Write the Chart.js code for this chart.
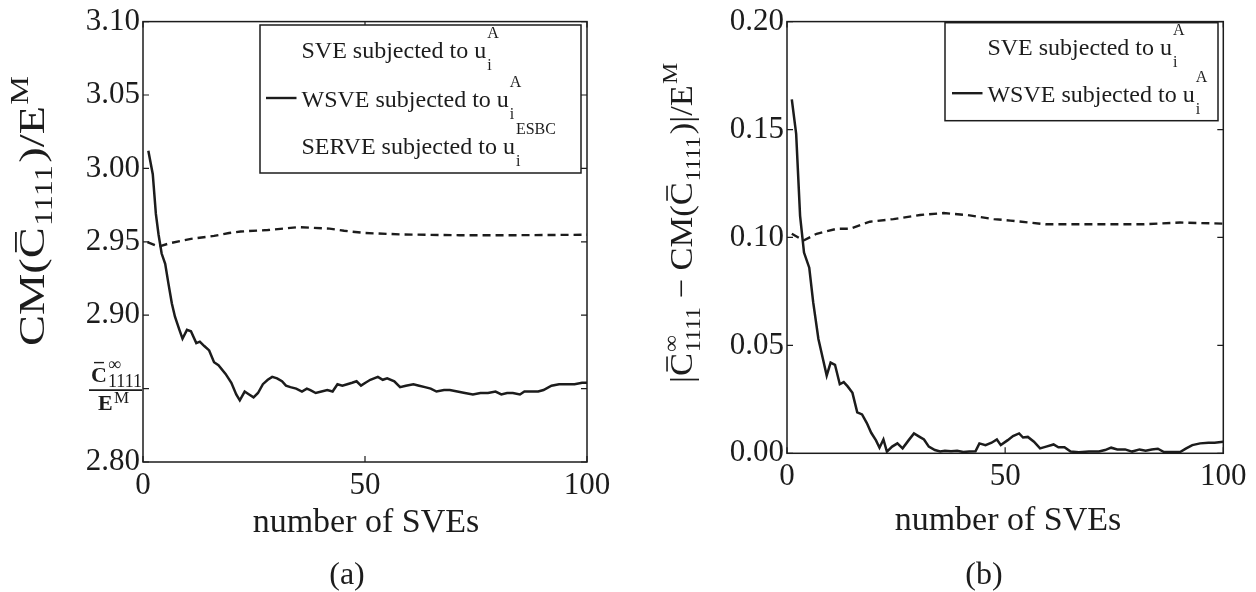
<!DOCTYPE html>
<html lang="en">
<head>
<meta charset="UTF-8">
<title>SVE convergence</title>
<script src="https://cdn.jsdelivr.net/npm/chart.js"></script>
<style>
  html, body { margin: 0; padding: 0; background: #fff; }
  #wrap { position: relative; width: 1256px; height: 592px; }
  canvas { position: absolute; top: 0; }
</style>
</head>
<body>
<div id="wrap">
  <canvas id="chartA" width="620" height="592" style="left:0"></canvas>
  <canvas id="chartB" width="636" height="592" style="left:620px"></canvas>
</div>
<script>
// (a) CM(C1111)/E^M
const aSveN = [1, 3.5, 6, 10.8, 16, 19.4, 22, 28.1, 35, 42, 45.3, 50, 58.3, 71.2, 84.2, 100];
const aSveV = [2.9497, 2.9467, 2.949, 2.952, 2.954, 2.956, 2.957, 2.958, 2.960, 2.959, 2.9575, 2.956, 2.955, 2.9545, 2.9545, 2.9548];
const aWsveN = [1.2, 2.2, 2.9, 3.5, 4.2, 5.0, 5.7, 6.5, 7.2, 8.2, 8.9, 9.9, 10.8, 12.0, 12.8, 13.8, 14.9, 16.0, 17.0, 18.6,
  19.9, 21.0, 21.8, 22.9, 23.9, 24.9, 25.9, 27.0, 28.1, 29.1, 30.2, 31.3, 32.2, 33.2, 34.5, 35.8, 36.9, 37.7, 38.9, 40.2,
  41.5, 42.7, 43.8, 44.9, 46.0, 47.1, 48.1, 49.1, 50.1, 51.2, 52.9, 54.0, 55.0, 56.6, 57.9, 59.2, 60.9, 62.2, 63.5, 64.8,
  66.1, 67.8, 69.1, 70.8, 72.5, 74.3, 76.0, 77.7, 79.4, 80.7, 82.0, 83.3, 84.9, 85.9, 87.7, 89.0, 90.2, 92.0, 93.7, 95.4,
  97.2, 98.9, 100];
const aWsveV = [3.012, 2.996, 2.969, 2.955, 2.942, 2.935, 2.922, 2.908, 2.899, 2.890, 2.884, 2.890, 2.889, 2.881, 2.882, 2.879, 2.876, 2.868, 2.866, 2.860,
  2.854, 2.846, 2.842, 2.848, 2.846, 2.844, 2.847, 2.853, 2.856, 2.858, 2.857, 2.855, 2.852, 2.851, 2.850, 2.848, 2.850, 2.849, 2.847, 2.848,
  2.849, 2.848, 2.853, 2.852, 2.853, 2.854, 2.855, 2.852, 2.854, 2.856, 2.858, 2.856, 2.857, 2.855, 2.851, 2.852, 2.853, 2.852, 2.851, 2.850,
  2.848, 2.849, 2.849, 2.848, 2.847, 2.846, 2.847, 2.847, 2.848, 2.846, 2.847, 2.847, 2.846, 2.848, 2.848, 2.848, 2.849, 2.852, 2.853, 2.853,
  2.853, 2.854, 2.854];

// (b) |C_inf - CM(C1111)|/E^M
const bSveN = [1.1, 3.8, 6.8, 11.4, 14.4, 19, 24.4, 30.5, 35.9, 41.2, 47.4, 51.2, 59.4, 73.4, 81.7, 90.1, 100];
const bSveV = [0.1017, 0.0986, 0.1017, 0.1040, 0.1040, 0.1073, 0.1085, 0.1104, 0.1113, 0.1104, 0.1085, 0.1078, 0.1061, 0.1061, 0.1061, 0.1069, 0.1064];
const bWsveN = [1.1, 2.1, 3.0, 3.9, 5.1, 6.0, 7.2, 8.2, 9.1, 10.0, 11.0, 12.1, 13.0, 13.9, 15.0, 16.1, 17.2, 18.3, 19.3, 20.4,
  21.2, 22.1, 22.9, 24.1, 25.3, 26.5, 27.9, 29.1, 30.4, 31.4, 32.5, 33.9, 35.1, 36.2, 37.6, 39.0, 40.4, 41.8, 43.2, 44.1,
  45.5, 46.9, 48.1, 49.0, 50.6, 51.8, 53.2, 54.1, 55.2, 56.6, 58.0, 59.4, 61.1, 62.2, 63.6, 65.0, 66.9, 69.2, 71.5, 72.9,
  74.3, 75.7, 77.5, 79.1, 80.8, 82.2, 83.6, 85.0, 86.4, 88.2, 90.1, 91.5, 92.9, 94.7, 96.6, 98.0, 100];
const bWsveV = [0.164, 0.148, 0.110, 0.093, 0.086, 0.070, 0.053, 0.044, 0.036, 0.042, 0.041, 0.032, 0.033, 0.031, 0.028, 0.019, 0.018, 0.014, 0.0095, 0.006,
  0.0026, 0.0064, 0.0008, 0.0031, 0.0046, 0.0023, 0.0061, 0.0092, 0.0076, 0.0064, 0.0031, 0.0015, 0.0008, 0.0012, 0.0009, 0.0012, 0.0006, 0.0008, 0.0009, 0.0046,
  0.0038, 0.0049, 0.0064, 0.0038, 0.0061, 0.0080, 0.0092, 0.0073, 0.0076, 0.0054, 0.0023, 0.0031, 0.0041, 0.0028, 0.0028, 0.0008, 0.0005, 0.0008, 0.0008, 0.0015,
  0.0026, 0.0018, 0.0018, 0.0008, 0.0018, 0.0012, 0.0018, 0.0021, 0.0006, 0.0006, 0.0006, 0.0023, 0.0038, 0.0046, 0.0049, 0.0049, 0.0054];

const xTicks = [0, 50, 100];
const aYTicks = [2.80, 2.85, 2.90, 2.95, 3.00, 3.05, 3.10];
const bYTicks = [0.00, 0.05, 0.10, 0.15, 0.20];

const SERIF = '"Liberation Serif", "Times New Roman", serif';
const INK = '#1c1c1c';

function font(sz, bold) {
  return (bold ? 'bold ' : '') + sz + 'px ' + SERIF;
}

function toPts(xs, ys) {
  return xs.map((x, i) => ({ x: x, y: ys[i] }));
}

// draw a run of text with sub/superscripts, returns its width
function rich(ctx, parts, x, y, draw) {
  let cx = x;
  parts.forEach(p => {
    ctx.font = font(p.s, p.bold);
    const w = ctx.measureText(p.t).width;
    if (draw) {
      ctx.fillText(p.t, cx, y + (p.dy || 0));
      if (p.bar) {
        ctx.lineWidth = Math.max(1.2, p.s * 0.05);
        ctx.beginPath();
        ctx.moveTo(cx + w * 0.2, y - p.s * 0.78);
        ctx.lineTo(cx + w * 0.85, y - p.s * 0.78);
        ctx.stroke();
      }
    }
    let adv = w;
    if (p.sup || p.sub) {
      ctx.font = font(p.ss || Math.round(p.s * 0.7));
      const w1 = p.sup ? ctx.measureText(p.sup).width : 0;
      const w2 = p.sub ? ctx.measureText(p.sub).width : 0;
      if (draw) {
        if (p.sup) ctx.fillText(p.sup, cx + w + 1, y + p.supDy);
        if (p.sub) ctx.fillText(p.sub, cx + w + 1, y + p.subDy);
      }
      adv = w + 1 + Math.max(w1, w2);
    }
    cx += adv + (p.gap || 0);
  });
  return cx - x;
}

function uParts(head, sup) {
  return [{ t: head + ' subjected to u', s: 24, sup: sup, sub: 'i', ss: 16, supDy: -20, subDy: 12 }];
}

function decoPlugin(cfg) {
  return {
    id: 'deco',
    afterDraw(chart) {
      const ctx = chart.ctx;
      const a = chart.chartArea;
      const xs = chart.scales.x, ys = chart.scales.y;
      ctx.save();
      ctx.strokeStyle = INK;
      ctx.fillStyle = INK;
      ctx.textAlign = 'left';
      ctx.textBaseline = 'alphabetic';

      // box
      ctx.lineWidth = 1.5;
      ctx.strokeRect(a.left, a.top, a.right - a.left, a.bottom - a.top);
      // inward ticks
      ctx.lineWidth = 1.2;
      ctx.beginPath();
      ys.ticks.forEach(t => {
        const py = ys.getPixelForValue(t.value);
        ctx.moveTo(a.left, py); ctx.lineTo(a.left + 6, py);
        ctx.moveTo(a.right, py); ctx.lineTo(a.right - 6, py);
      });
      xs.ticks.forEach(t => {
        const px = xs.getPixelForValue(t.value);
        ctx.moveTo(px, a.bottom); ctx.lineTo(px, a.bottom - 6);
        ctx.moveTo(px, a.top); ctx.lineTo(px, a.top + 6);
      });
      ctx.stroke();

      // legend
      const L = cfg.legend;
      ctx.fillStyle = '#fff';
      ctx.fillRect(L.x0, L.y0, L.x1 - L.x0, L.y1 - L.y0);
      ctx.fillStyle = INK;
      ctx.lineWidth = 1.5;
      ctx.strokeRect(L.x0, L.y0, L.x1 - L.x0, L.y1 - L.y0);
      L.rows.forEach(r => {
        rich(ctx, r.parts, L.textX, r.base, true);
        if (r.sample) {
          ctx.lineWidth = 2.4;
          ctx.beginPath();
          ctx.moveTo(L.sampleX0, r.base - 8.5);
          ctx.lineTo(L.sampleX1, r.base - 8.5);
          ctx.stroke();
        }
      });

      // y title (rotated, stretched to the length it has in the figure)
      const T = cfg.yTitle;
      ctx.save();
      ctx.translate(T.x, T.y);
      ctx.rotate(-Math.PI / 2);
      const w = rich(ctx, T.parts, 0, 0, false);
      ctx.scale(T.len / w, 1);
      rich(ctx, T.parts, -w / 2, 0, true);
      ctx.restore();

      // x title + panel tag
      ctx.textAlign = 'center';
      ctx.font = font(34);
      ctx.fillText('number of SVEs', cfg.xTitle.x, cfg.xTitle.y);
      ctx.font = font(32);
      ctx.fillText(cfg.tag.t, cfg.tag.x, cfg.tag.y);
      ctx.textAlign = 'left';

      // fraction label on the y axis
      if (cfg.fracAt !== undefined) {
        const py = ys.getPixelForValue(cfg.fracAt);
        const x0 = a.left - 54;
        ctx.font = font(22, true);
        ctx.fillText('C', x0 + 2, py - 7);
        ctx.lineWidth = 1.4;
        ctx.beginPath();
        ctx.moveTo(x0 + 5, py - 26); ctx.lineTo(x0 + 15, py - 26);
        ctx.stroke();
        ctx.font = font(18);
        ctx.fillText('\u221e', x0 + 19, py - 19);
        ctx.fillText('1111', x0 + 19, py - 2);
        ctx.lineWidth = 1.8;
        ctx.beginPath();
        ctx.moveTo(x0, py + 1.5); ctx.lineTo(a.left - 1, py + 1.5);
        ctx.stroke();
        ctx.font = font(22, true);
        ctx.fillText('E', x0 + 9, py + 21);
        ctx.font = font(17);
        ctx.fillText('M', x0 + 25, py + 14);
      }
      ctx.restore();
    }
  };
}

function makeChart(id, cfg) {
  const ctx = document.getElementById(id);
  return new Chart(ctx, {
    type: 'line',
    data: {
      datasets: [
        {
          label: 'SVE subjected to u_i^A',
          data: toPts(cfg.sveN, cfg.sveV),
          borderColor: INK, borderWidth: 2.4, borderDash: [8, 5],
          pointRadius: 0, tension: 0, fill: false
        },
        {
          label: 'WSVE subjected to u_i^A',
          data: toPts(cfg.wsveN, cfg.wsveV),
          borderColor: INK, borderWidth: 2.5,
          pointRadius: 0, tension: 0, fill: false
        }
      ]
    },
    options: {
      responsive: false,
      animation: false,
      events: [],
      layout: { padding: { top: cfg.padTop, right: cfg.padRight, left: 0, bottom: 0 } },
      plugins: { legend: { display: false }, tooltip: { enabled: false } },
      scales: {
        x: {
          type: 'linear', min: 0, max: 100,
          grid: { display: false, drawTicks: false }, border: { display: false },
          afterBuildTicks: s => { s.ticks = xTicks.map(v => ({ value: v })); },
          ticks: { padding: 5, color: INK, maxRotation: 0, font: { family: SERIF, size: 31 } },
          afterFit: s => { s.height = cfg.xAxisH; }
        },
        y: {
          type: 'linear', min: cfg.yTicks[0], max: cfg.yTicks[cfg.yTicks.length - 1],
          grid: { display: false, drawTicks: false }, border: { display: false },
          afterBuildTicks: s => { s.ticks = cfg.yTicks.map(v => ({ value: v })); },
          ticks: {
            padding: 3, color: INK, font: { family: SERIF, size: 31 },
            callback: v => (cfg.fracAt !== undefined && Math.abs(v - cfg.fracAt) < 1e-6) ? '' : v.toFixed(2)
          },
          afterFit: s => { s.width = cfg.yAxisW; }
        }
      }
    },
    plugins: [decoPlugin(cfg)]
  });
}

makeChart('chartA', {
  sveN: aSveN, sveV: aSveV, wsveN: aWsveN, wsveV: aWsveV,
  yTicks: aYTicks, fracAt: 2.85,
  padTop: 20, padRight: 33, yAxisW: 143, xAxisH: 130,
  legend: {
    x0: 260, y0: 25, x1: 581, y1: 173, textX: 301.5, sampleX0: 266, sampleX1: 296.5,
    rows: [
      { base: 58, parts: uParts('SVE', 'A') },
      { base: 106.5, parts: uParts('WSVE', 'A'), sample: true },
      { base: 154, parts: uParts('SERVE', 'ESBC') }
    ]
  },
  yTitle: {
    x: 44, y: 211, len: 270,
    parts: [
      { t: 'CM(', s: 36 },
      { t: 'C', s: 36, bar: true, sub: '1111', ss: 25, subDy: 8, gap: 2 },
      { t: ')/E', s: 36, sup: 'M', ss: 25, supDy: -16 }
    ]
  },
  xTitle: { x: 366, y: 532 },
  tag: { t: '(a)', x: 347, y: 584 }
});

makeChart('chartB', {
  sveN: bSveN, sveV: bSveV, wsveN: bWsveN, wsveV: bWsveV,
  yTicks: bYTicks,
  padTop: 17.3, padRight: 32.7, yAxisW: 167, xAxisH: 138.7,
  legend: {
    x0: 325, y0: 22.7, x1: 598, y1: 120.7, textX: 367.4, sampleX0: 332, sampleX1: 362.5,
    rows: [
      { base: 55, parts: uParts('SVE', 'A') },
      { base: 101.7, parts: uParts('WSVE', 'A'), sample: true }
    ]
  },
  yTitle: {
    x: 72, y: 223, len: 320,
    parts: [
      { t: '|', s: 32 },
      { t: 'C', s: 32, bar: true, sup: '\u221e', sub: '1111', ss: 22, supDy: -14, subDy: 8, gap: 8 },
      { t: '\u2212', s: 32, gap: 8 },
      { t: 'CM(', s: 32 },
      { t: 'C', s: 32, bar: true, sub: '1111', ss: 22, subDy: 8, gap: 2 },
      { t: ')|/E', s: 32, sup: 'M', ss: 22, supDy: -15 }
    ]
  },
  xTitle: { x: 388, y: 530 },
  tag: { t: '(b)', x: 364, y: 584 }
});
</script>
</body>
</html>
